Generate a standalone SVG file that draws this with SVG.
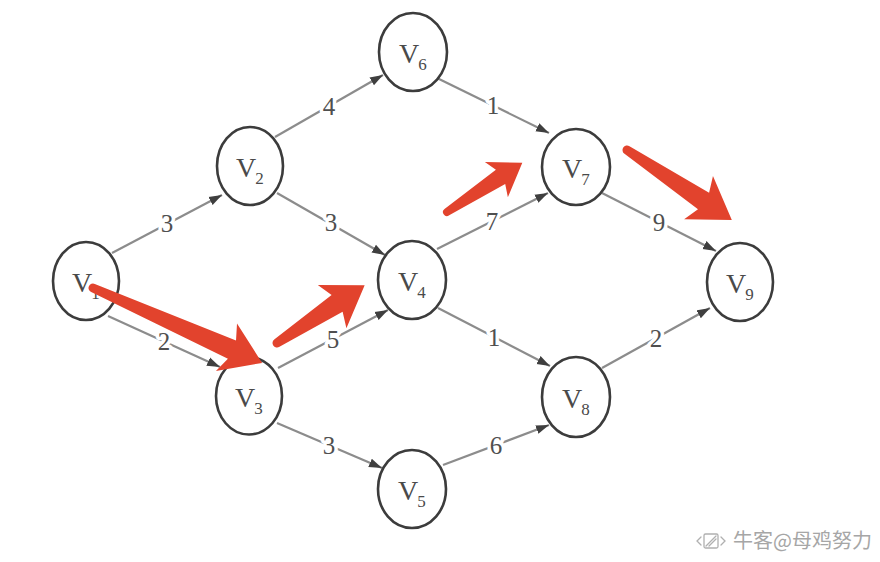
<svg xmlns="http://www.w3.org/2000/svg" width="880" height="562" viewBox="0 0 880 562">
  <style>
    .node ellipse { fill: #ffffff; stroke: #3c3c3c; stroke-width: 2.6; }
    .node text { font-family: "Liberation Serif", "Times New Roman", serif; fill: #4a4a4a; }
    .node .v { font-size: 28px; }
    .node .sub { font-size: 17px; }
    .edge { stroke: #8c8c8c; stroke-width: 2.2; fill: none; marker-end: url(#tip); }
    .w { font-family: "Liberation Serif", "Times New Roman", serif; font-size: 25px; fill: #4f4f4f; text-anchor: middle;
         stroke: #ffffff; stroke-width: 7; paint-order: stroke; stroke-linejoin: round; }
    .hl { fill: #e2432d; }
    .mark { font-family: "Noto Sans CJK SC", "Noto Sans", sans-serif; font-size: 20px; fill: #a6a6a6; }
  </style>
  <defs>
    <marker id="tip" markerUnits="userSpaceOnUse" markerWidth="14" markerHeight="10" viewBox="0 0 14 10" refX="13" refY="5" orient="auto">
      <path d="M0,0.5 L13,5 L0,9.5 Z" fill="#3f3f3f"/>
    </marker>
  </defs>

  <rect width="880" height="562" fill="#ffffff"/>

  <!-- connectors with weights -->
  <g id="connectors">
    <line class="edge" x1="112" y1="253" x2="222" y2="195"/>
    <line class="edge" x1="108" y1="316" x2="220" y2="367"/>
    <line class="edge" x1="275" y1="137" x2="383" y2="75"/>
    <line class="edge" x1="277" y1="193" x2="385" y2="255"/>
    <line class="edge" x1="278" y1="368" x2="388" y2="310"/>
    <line class="edge" x1="277" y1="423" x2="382" y2="468"/>
    <line class="edge" x1="437" y1="78" x2="549" y2="133"/>
    <line class="edge" x1="437" y1="249" x2="548" y2="193"/>
    <line class="edge" x1="438" y1="308" x2="550" y2="366"/>
    <line class="edge" x1="443" y1="465" x2="549" y2="425"/>
    <line class="edge" x1="602" y1="193" x2="716" y2="251"/>
    <line class="edge" x1="602" y1="368" x2="710" y2="308"/>

    <text class="w" x="167" y="232">3</text>
    <text class="w" x="164" y="350">2</text>
    <text class="w" x="329" y="115">4</text>
    <text class="w" x="331" y="231">3</text>
    <text class="w" x="333" y="348">5</text>
    <text class="w" x="329" y="454">3</text>
    <text class="w" x="493" y="114">1</text>
    <text class="w" x="492" y="230">7</text>
    <text class="w" x="494" y="346">1</text>
    <text class="w" x="496" y="454">6</text>
    <text class="w" x="659" y="231">9</text>
    <text class="w" x="656" y="347">2</text>
  </g>

  <!-- vertices -->
  <g id="v1" class="node">
    <ellipse cx="86" cy="281" rx="33" ry="39"/>
    <text x="72" y="292"><tspan class="v">V</tspan><tspan class="sub" dx="-1" dy="7">1</tspan></text>
  </g>
  <g id="v2" class="node">
    <ellipse cx="250" cy="166" rx="33" ry="39"/>
    <text x="236" y="177"><tspan class="v">V</tspan><tspan class="sub" dx="-1" dy="7">2</tspan></text>
  </g>
  <g id="v3" class="node">
    <ellipse cx="249" cy="396" rx="33" ry="38.5"/>
    <text x="235" y="407"><tspan class="v">V</tspan><tspan class="sub" dx="-1" dy="7">3</tspan></text>
  </g>
  <g id="v4" class="node">
    <ellipse cx="412" cy="280" rx="34" ry="39"/>
    <text x="398" y="291"><tspan class="v">V</tspan><tspan class="sub" dx="-1" dy="7">4</tspan></text>
  </g>
  <g id="v5" class="node">
    <ellipse cx="412" cy="489" rx="34" ry="39"/>
    <text x="398" y="500"><tspan class="v">V</tspan><tspan class="sub" dx="-1" dy="7">5</tspan></text>
  </g>
  <g id="v6" class="node">
    <ellipse cx="413" cy="52" rx="34" ry="39"/>
    <text x="399" y="63"><tspan class="v">V</tspan><tspan class="sub" dx="-1" dy="7">6</tspan></text>
  </g>
  <g id="v7" class="node">
    <ellipse cx="576" cy="167" rx="34" ry="38"/>
    <text x="562" y="178"><tspan class="v">V</tspan><tspan class="sub" dx="-1" dy="7">7</tspan></text>
  </g>
  <g id="v8" class="node">
    <ellipse cx="576" cy="397" rx="34" ry="40"/>
    <text x="562" y="408"><tspan class="v">V</tspan><tspan class="sub" dx="-1" dy="7">8</tspan></text>
  </g>
  <g id="v9" class="node">
    <ellipse cx="740" cy="282" rx="33" ry="39"/>
    <text x="726" y="293"><tspan class="v">V</tspan><tspan class="sub" dx="-1" dy="7">9</tspan></text>
  </g>

  <!-- red path markers (drawn in local coordinates: tail at origin, pointing along +x) -->
  <g id="highlight">
    <path class="hl" transform="translate(93,288) rotate(23.9)"
          d="M0,-4.5 L152,-10 L146,-26 L185,0 L146,26 L152,10 L0,4.5 A4.5,4.5 0 0 1 0,-4.5 Z"/>
    <path class="hl" transform="translate(277,343) rotate(-33.4)"
          d="M0,-4.5 L72,-10 L66,-26 L105,0 L66,26 L72,10 L0,4.5 A4.5,4.5 0 0 1 0,-4.5 Z"/>
    <path class="hl" transform="translate(447,212) rotate(-33.2)"
          d="M0,-4 L64,-8.5 L59,-21 L90,0 L59,21 L64,8.5 L0,4 A4,4 0 0 1 0,-4 Z"/>
    <path class="hl" transform="translate(627,150) rotate(33.7)"
          d="M0,-4.5 L92,-10 L86,-26 L126,0 L86,26 L92,10 L0,4.5 A4.5,4.5 0 0 1 0,-4.5 Z"/>
  </g>

  <!-- footer credit -->
  <g id="credit">
    <g fill="none" stroke="#b0b0b0" stroke-width="1.3" stroke-linecap="round">
      <rect x="704" y="534" width="14" height="14" rx="1.5"/>
      <path d="M706,546 L716,536 M709,546 L716,539"/>
      <path d="M701,537 L697,541 L701,545 M721,537 L725,541 L721,545"/>
    </g>
    <text class="mark" x="733" y="548">牛客@母鸡努力</text>
  </g>
</svg>
